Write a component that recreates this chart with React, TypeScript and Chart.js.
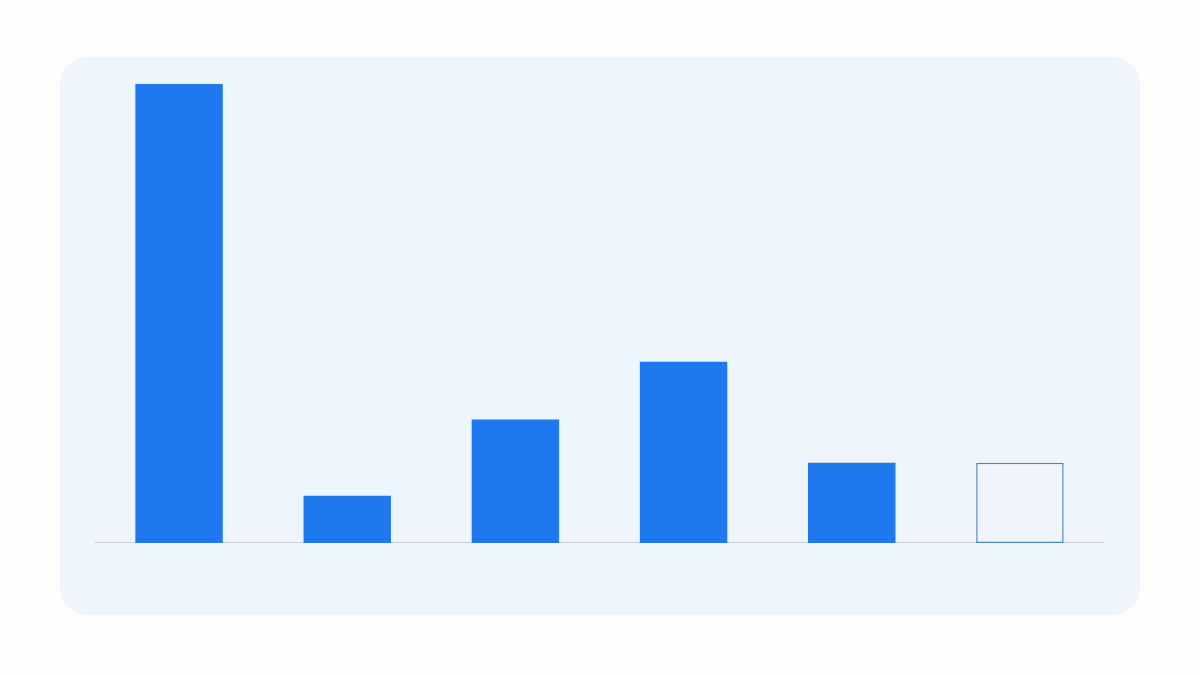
import { useEffect, useRef } from 'react';
import { Chart, registerables } from 'chart.js';

Chart.register(...registerables);

// no labels in the picture, just six unnamed columns
const categories = ['1', '2', '3', '4', '5', '6'];
const values = [100, 10.3, 26.9, 39.5, 17.5, 17.5];
const fillColors = ['#1f78ee', '#1f78ee', '#1f78ee', '#1f78ee', '#1f78ee', '#f1f6fe'];
const borderColors = ['#1f78ee', '#1f78ee', '#1f78ee', '#1f78ee', '#1f78ee', '#4a86c8'];
const borderWidths = [0, 0, 0, 0, 0, 1.5];

export default function App() {
  const canvasRef = useRef<HTMLCanvasElement>(null);
  const chartRef = useRef<Chart | null>(null);

  useEffect(() => {
    if (!canvasRef.current) return;
    if (chartRef.current) chartRef.current.destroy();

    chartRef.current = new Chart(canvasRef.current, {
      type: 'bar',
      data: {
        labels: categories,
        datasets: [{
          data: values,
          backgroundColor: fillColors,
          borderColor: borderColors,
          borderWidth: borderWidths,
          borderSkipped: false,
          barPercentage: 0.52,
          categoryPercentage: 1,
        }],
      },
      options: {
        animation: false,
        responsive: true,
        maintainAspectRatio: false,
        layout: { padding: { top: 2, right: 0, bottom: 0, left: 0 } },
        plugins: {
          legend: { display: false },
          tooltip: { enabled: false },
        },
        scales: {
          x: {
            display: true,
            grid: { display: false, drawTicks: false },
            ticks: { display: false },
            border: { display: true, color: '#c5c8cd', width: 1.5 },
          },
          y: {
            display: false,
            min: 0,
            max: 100,
          },
        },
      },
    });

    return () => {
      if (chartRef.current) {
        chartRef.current.destroy();
        chartRef.current = null;
      }
    };
  }, []);

  return (
    <div style={{ position: 'fixed', left: 0, top: 0, width: 1200, height: 675, background: '#fdfdfd' }}>
      <div
        style={{
          position: 'absolute',
          left: 60,
          top: 57,
          width: 1080,
          height: 558,
          borderRadius: 28,
          background: '#eff5fd',
        }}
      />
      <div style={{ position: 'absolute', left: 95, top: 82, width: 1009, height: 461 }}>
        <canvas ref={canvasRef} />
      </div>
    </div>
  );
}
